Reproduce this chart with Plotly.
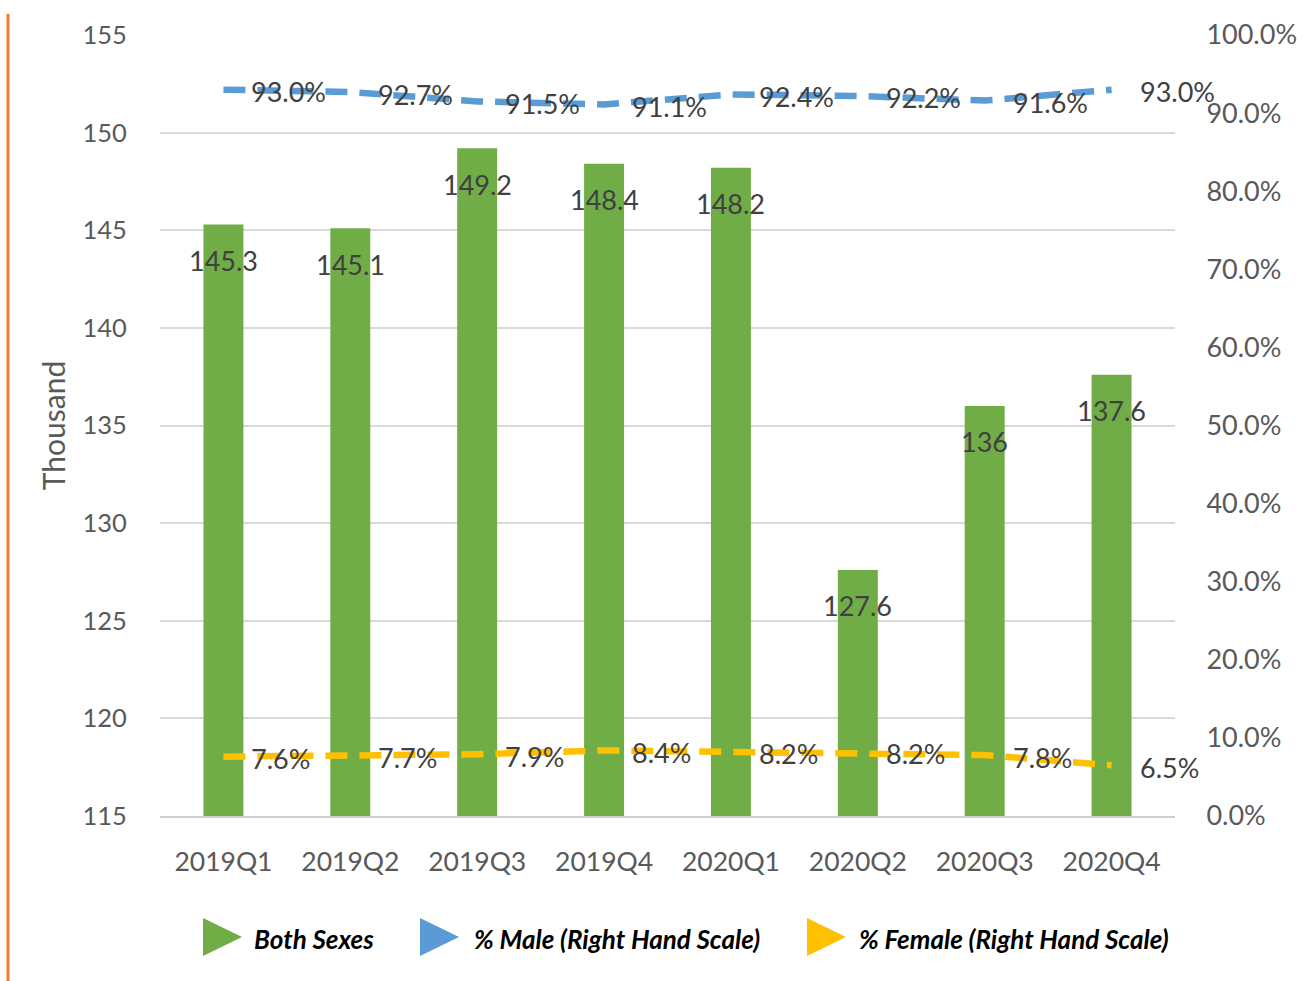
import plotly.graph_objects as go

# Quarterly values
quarters = ["2019Q1", "2019Q2", "2019Q3", "2019Q4", "2020Q1", "2020Q2", "2020Q3", "2020Q4"]
both_sexes = [145.3, 145.1, 149.2, 148.4, 148.2, 127.6, 136, 137.6]
pct_male = [93.0, 92.7, 91.5, 91.1, 92.4, 92.2, 91.6, 93.0]
pct_female = [7.6, 7.7, 7.9, 8.4, 8.2, 8.2, 7.8, 6.5]

GREEN = "#70AD47"
BLUE = "#5B9BD5"
YELLOW = "#FFC000"
TICK_GRAY = "#595959"
LABEL_DARK = "#404040"
FONT = "Lato"

W, H = 1310, 981
ML, MR, MT, MB = 160, 135, 35, 165
PW = W - ML - MR
PH = H - MT - MB


def px_to_paper(px, py):
    return (px - ML) / PW, (H - MB - py) / PH


fig = go.Figure()

fig.add_trace(go.Bar(
    x=quarters, y=both_sexes, name="Both Sexes",
    marker=dict(color=GREEN, line=dict(width=0)),
    yaxis="y", showlegend=False,
))

fig.add_trace(go.Scatter(
    x=quarters, y=pct_male, name="% Male (Right Hand Scale)",
    mode="lines", line=dict(color=BLUE, width=6.5, dash="22px,12px"),
    yaxis="y2", showlegend=False,
))

fig.add_trace(go.Scatter(
    x=quarters, y=pct_female, name="% Female (Right Hand Scale)",
    mode="lines", line=dict(color=YELLOW, width=6.5, dash="22px,12px"),
    yaxis="y2", showlegend=False,
))

annotations = []
# value labels inside the top of each bar
for q, v in zip(quarters, both_sexes):
    annotations.append(dict(
        x=q, y=v, xref="x", yref="y", text=f"{v:g}", showarrow=False,
        yshift=-36, font=dict(family=FONT, size=27, color=LABEL_DARK),
    ))
# percentage labels to the right of each line point
for series in (pct_male, pct_female):
    for q, p in zip(quarters, series):
        annotations.append(dict(
            x=q, y=p, xref="x", yref="y2", text=f"{p:.1f}%", showarrow=False,
            xanchor="left", xshift=26, yshift=-2,
            font=dict(family=FONT, size=27, color=LABEL_DARK),
        ))

# legend built from triangles and italic labels
legend_items = [
    (GREEN, "Both Sexes", 203, 252),
    (BLUE, "% Male (Right Hand Scale)", 420, 472),
    (YELLOW, "% Female (Right Hand Scale)", 807, 857),
]
shapes = []
for color, label, tx, lx in legend_items:
    x0, y0 = px_to_paper(tx, 918)
    x1, y1 = px_to_paper(tx + 39, 937)
    _, y2 = px_to_paper(tx, 956)
    shapes.append(dict(
        type="path", xref="paper", yref="paper",
        path=f"M {x0} {y0} L {x1} {y1} L {x0} {y2} Z",
        fillcolor=color, line=dict(width=0),
    ))
    ax, ay = px_to_paper(lx, 939)
    annotations.append(dict(
        x=ax, y=ay, xref="paper", yref="paper", text=f"<b><i>{label}</i></b>",
        showarrow=False, xanchor="left", yanchor="middle",
        font=dict(family=FONT, size=26, color="#000000"),
    ))

# orange rule down the left side of the page
lx0, ly0 = px_to_paper(8, 14)
_, ly1 = px_to_paper(8, 981)
shapes.append(dict(
    type="line", xref="paper", yref="paper", x0=lx0, x1=lx0, y0=ly0, y1=ly1,
    line=dict(color="#ED7D31", width=3),
))

fig.update_layout(
    width=W, height=H,
    margin=dict(l=ML, r=MR, t=MT, b=MB, autoexpand=False),
    paper_bgcolor="white", plot_bgcolor="white",
    bargap=0.685,
    font=dict(family=FONT, size=24, color=TICK_GRAY),
    xaxis=dict(
        type="category", range=[-0.5, 7.5], autorange=False,
        showgrid=False, showline=True,
        linecolor="#D0D0D0", linewidth=2, zeroline=False,
        tickfont=dict(family=FONT, size=26.5, color=TICK_GRAY),
        ticks="outside", ticklen=21, tickcolor="rgba(0,0,0,0)",
    ),
    yaxis=dict(
        range=[115, 155], dtick=5, tick0=115,
        showgrid=True, gridcolor="#D9D9D9", gridwidth=2,
        zeroline=False, showline=False,
        tickfont=dict(family=FONT, size=25.5, color=TICK_GRAY),
        ticks="outside", ticklen=27, tickcolor="rgba(0,0,0,0)",
        title=dict(text="Thousand", font=dict(family=FONT, size=30, color=TICK_GRAY), standoff=8),
    ),
    yaxis2=dict(
        range=[0, 100], dtick=10, tick0=0,
        overlaying="y", side="right",
        showgrid=False, zeroline=False, showline=False,
        tickformat=".1f", ticksuffix="%",
        tickfont=dict(family=FONT, size=27, color=TICK_GRAY),
        ticks="outside", ticklen=25, tickcolor="rgba(0,0,0,0)",
    ),
    annotations=annotations,
    shapes=shapes,
)

fig.write_html("out.html")
